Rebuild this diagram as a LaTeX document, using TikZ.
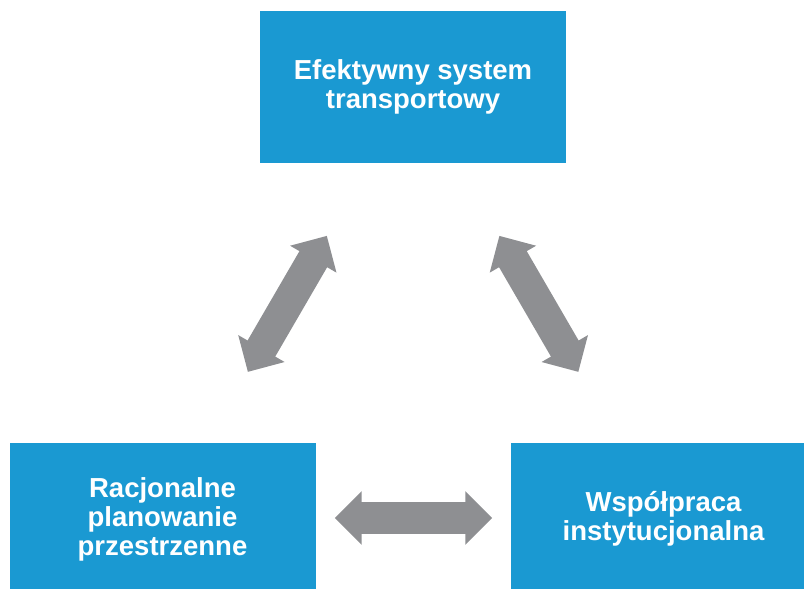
\documentclass[tikz,border=0pt]{standalone}
\usepackage{fontspec}
\setmainfont{Liberation Sans}
\usepackage{xcolor}
\definecolor{boxblue}{RGB}{26,153,210}
\definecolor{arrowgray}{RGB}{142,143,146}
\usetikzlibrary{arrows.meta, positioning}

\begin{document}
\begin{tikzpicture}[
  x=1pt, y=-1pt,
  block/.style={rectangle, fill=boxblue, text=white, text centered, align=center, minimum width=306pt, minimum height=152pt, inner sep=0pt, font=\fontsize{27.5}{29}\selectfont\bfseries},
  dblarrow/.style={draw=arrowgray, line width=32pt, {Triangle[length=27pt, width=52pt]}-{Triangle[length=27pt, width=52pt]}}
]
\useasboundingbox (0,0) rectangle (804,589);

% Boxes
\node[block] (transport) at (413,87) {Efektywny system\\transportowy};
\node[block] (planning) at (162.5,519) {Racjonalne\\planowanie\\przestrzenne};
\node[block] (coop) at (663.5,519) {Współpraca\\instytucjonalna};

% Double arrows between boxes
\draw[dblarrow, shorten <=82pt, shorten >=84pt] (planning) -- (transport);
\draw[dblarrow, shorten <=84pt, shorten >=82pt] (transport) -- (coop);
\draw[dblarrow, shorten <=19pt, shorten >=18pt] ([yshift=1pt]planning.east) -- ([yshift=1pt]coop.west);

\end{tikzpicture}
\end{document}
